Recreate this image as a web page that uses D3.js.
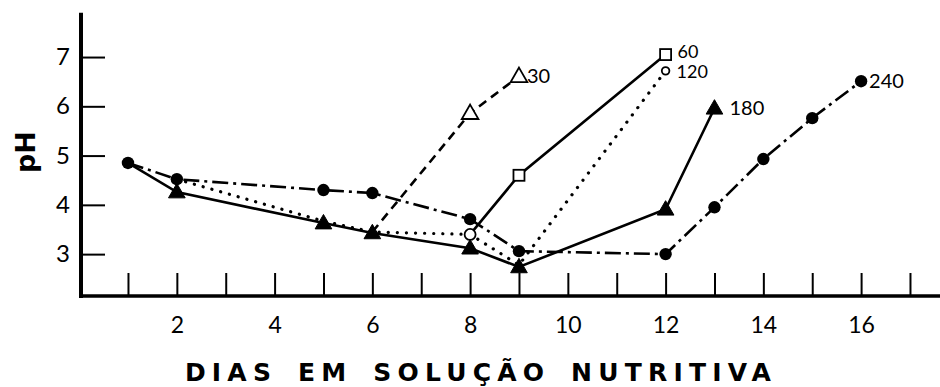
<!DOCTYPE html>
<html>
<head>
<meta charset="utf-8">
<script src="https://cdn.jsdelivr.net/npm/d3@7/dist/d3.min.js"></script>
<style>
  html, body { margin: 0; padding: 0; background: #fff; }
  svg { display: block; }
  text { font-family: "Lato", "DejaVu Sans", sans-serif; fill: #000; }
</style>
</head>
<body>
<svg id="chart" width="940" height="387"></svg>
<script>
// ---- data ----
const xTicks = [1,2,3,4,5,6,7,8,9,10,11,12,13,14,15,16,17];
const xTickLabels = ["", "2", "", "4", "", "6", "", "8", "", "10", "", "12", "", "14", "", "16", ""];
const yTicks = [3, 4, 5, 6, 7];
const yTickLabels = ["3", "4", "5", "6", "7"];

const days240 = [1, 2, 5, 6, 8, 9, 12, 13, 14, 15, 16];
const ph240   = [4.85, 4.52, 4.30, 4.24, 3.71, 3.06, 3.00, 3.95, 4.93, 5.76, 6.51];

const days180 = [1, 2, 5, 6, 8, 9, 12, 13];
const ph180   = [4.85, 4.26, 3.63, 3.43, 3.12, 2.74, 3.91, 5.96];

const days120 = [2, 5, 6, 8, 9, 12];
const ph120   = [4.52, 3.67, 3.45, 3.40, 2.78, 6.72];

const days60 = [8, 9, 12];
const ph60   = [3.40, 4.60, 7.05];

const days30 = [6, 8, 9];
const ph30   = [3.45, 5.86, 6.61];

const seriesLabels = ["240", "180", "120", "60", "30"];
const xTitle = "DIAS EM SOLUÇÃO NUTRITIVA";
const yTitle = "pH";

// ---- layout ----
const svg = d3.select("#chart");
const x = d3.scaleLinear().domain([0, 17.6]).range([79.1, 939.3]);
const y = d3.scaleLinear().domain([2.15, 7.9]).range([296, 12.7]);
const axisX = 81;

// axes
const gx = svg.append("g").attr("transform", `translate(0,${y(2.15)})`)
  .call(d3.axisBottom(x).tickValues(xTicks).tickSize(-23).tickPadding(15)
    .tickFormat((d, i) => xTickLabels[i]));
gx.select(".domain").remove();
gx.selectAll(".tick line").attr("stroke", "#000").attr("stroke-width", 2);
gx.selectAll(".tick text").attr("font-size", 23).attr("dy", "0.95em").attr("fill", "#000");
svg.append("line").attr("x1", axisX - 2).attr("x2", 940).attr("y1", y(2.15)).attr("y2", y(2.15))
  .attr("stroke", "#000").attr("stroke-width", 3.5);

const gy = svg.append("g").attr("transform", `translate(${axisX},0)`)
  .call(d3.axisLeft(y).tickValues(yTicks).tickSize(-24).tickPadding(11)
    .tickFormat((d, i) => yTickLabels[i]));
gy.select(".domain").remove();
gy.selectAll(".tick line").attr("stroke", "#000").attr("stroke-width", 2);
gy.selectAll(".tick text").attr("font-size", 24).attr("fill", "#000");
svg.append("line").attr("x1", axisX).attr("x2", axisX).attr("y1", y(7.9)).attr("y2", y(2.15) + 2)
  .attr("stroke", "#000").attr("stroke-width", 4);

// titles
svg.append("text").attr("x", 481).attr("y", 381).attr("text-anchor", "middle")
  .attr("font-size", 25).attr("font-weight", "bold").attr("letter-spacing", 6.2)
  .attr("word-spacing", 6)
  .style("font-family", "'DejaVu Sans', sans-serif")
  .text(xTitle);
svg.append("text").attr("transform", "translate(35,152) rotate(-90)").attr("text-anchor", "middle")
  .attr("font-size", 27).attr("font-weight", "bold")
  .style("font-family", "'DejaVu Sans', sans-serif")
  .text(yTitle);

// lines
const line = d3.line().x(d => x(d[0])).y(d => y(d[1]));
function zip(a, b) { return a.map((d, i) => [d, b[i]]); }
const lines = [
  { pts: zip(days240, ph240), dash: "16,5,3,5", w: 2.6, cap: "butt" },
  { pts: zip(days180, ph180), dash: null, w: 2.6, cap: "butt" },
  { pts: zip(days120, ph120), dash: "0.1,9", w: 3.2, cap: "round" },
  { pts: zip(days60, ph60), dash: null, w: 2.6, cap: "butt" },
  { pts: zip(days30, ph30), dash: "9,6", w: 2.6, cap: "butt" }
];
lines.forEach(s => {
  svg.append("path").attr("d", line(s.pts)).attr("fill", "none")
    .attr("stroke", "#000").attr("stroke-width", s.w)
    .attr("stroke-dasharray", s.dash).attr("stroke-linecap", s.cap);
});

// markers
const tri = d3.symbol().type(d3.symbolTriangle);
function triangle(px, py, size, filled) {
  svg.append("path").attr("d", tri.size(size)())
    .attr("transform", `translate(${px},${py + 1})`)
    .attr("fill", filled ? "#000" : "#fff").attr("stroke", "#000").attr("stroke-width", filled ? 1 : 1.8);
}
function circle(px, py, r, filled) {
  svg.append("circle").attr("cx", px).attr("cy", py).attr("r", r)
    .attr("fill", filled ? "#000" : "#fff").attr("stroke", "#000").attr("stroke-width", filled ? 0 : 1.8);
}
function square(px, py, s) {
  svg.append("rect").attr("x", px - s / 2).attr("y", py - s / 2).attr("width", s).attr("height", s)
    .attr("fill", "#fff").attr("stroke", "#000").attr("stroke-width", 1.8);
}

// 180: filled triangles (first point shared, shown as circle)
days180.forEach((d, i) => { if (i > 0) triangle(x(d), y(ph180[i]), 120, true); });
// 240: filled circles
days240.forEach((d, i) => circle(x(d), y(ph240[i]), 6.2, true));
// 120: open circles at days 8 and 12
days120.forEach((d, i) => {
  if (d === 8) circle(x(d), y(ph120[i]), 5.5, false);
  if (d === 12) circle(x(d), y(ph120[i]), 3.8, false);
});
// 60: open squares at days 9 and 12
days60.forEach((d, i) => { if (i > 0) square(x(d), y(ph60[i]), 11); });
// 30: open triangles at days 8 and 9
days30.forEach((d, i) => { if (i > 0) triangle(x(d), y(ph30[i]), 120, false); });

// series labels
const lab = [
  { t: seriesLabels[0], d: days240[days240.length - 1], v: ph240[ph240.length - 1], dx: 8, dy: 0 },
  { t: seriesLabels[1], d: days180[days180.length - 1], v: ph180[ph180.length - 1], dx: 15, dy: 0 },
  { t: seriesLabels[2], d: days120[days120.length - 1], v: ph120[ph120.length - 1], dx: 11, dy: 1 },
  { t: seriesLabels[3], d: days60[days60.length - 1], v: ph60[ph60.length - 1], dx: 12, dy: -3 },
  { t: seriesLabels[4], d: days30[days30.length - 1], v: ph30[ph30.length - 1], dx: 8, dy: 0 }
];
lab.forEach(l => {
  svg.append("text").attr("x", x(l.d) + l.dx).attr("y", y(l.v) + l.dy)
    .attr("dy", "0.36em").attr("font-size", (l.t === "60" || l.t === "120") ? 18 : 20).text(l.t);
});
</script>
</body>
</html>
